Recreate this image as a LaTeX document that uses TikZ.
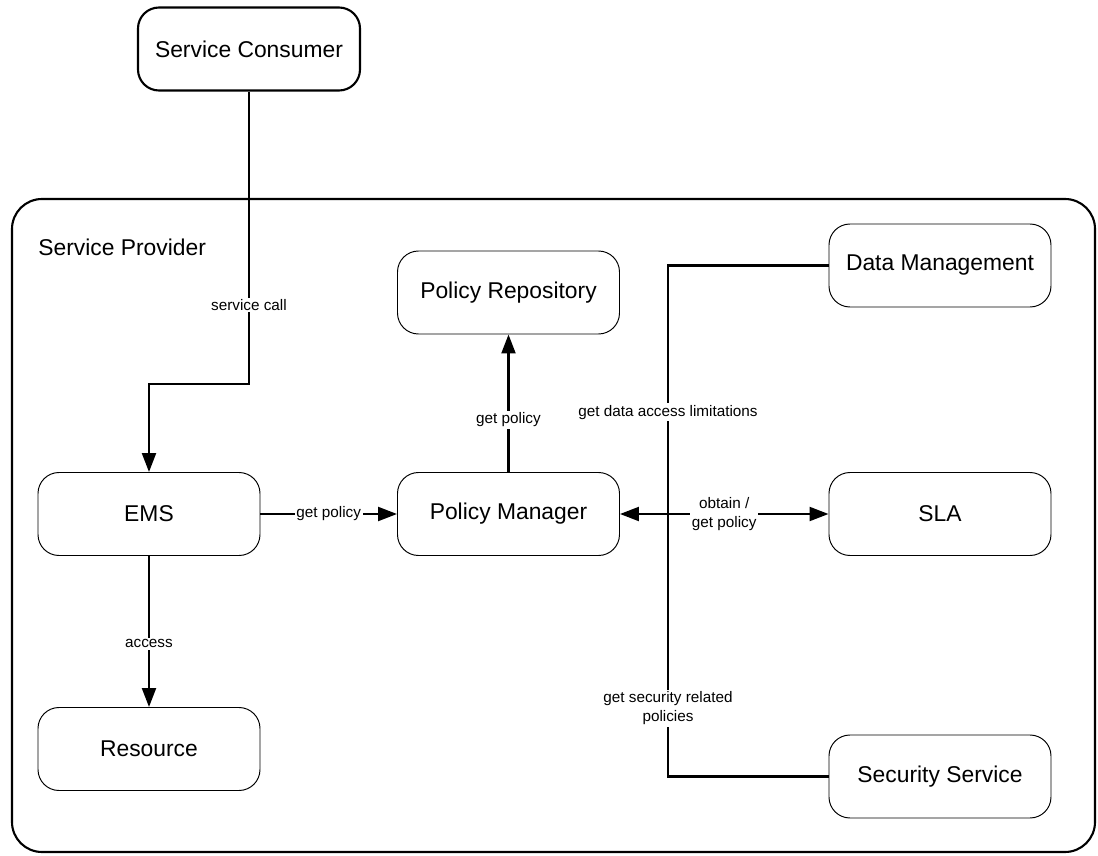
\documentclass[tikz,border=0pt]{standalone}
\usepackage{fontspec}
\setmainfont{Liberation Sans}
\usepackage{tikz}
\usetikzlibrary{arrows.meta,positioning,calc}

\begin{document}
\begin{tikzpicture}[
    comp/.style={rectangle, rounded corners=0.42cm, minimum width=4.44cm,
        minimum height=1.66cm, draw=black, line width=0.55pt, fill=white,
        font=\fontsize{13}{15}\selectfont, align=center},
    outer/.style={comp, line width=1.2pt},
    provider/.style={rounded corners=0.6cm, draw=black, line width=1.2pt},
    flow/.style={-{Triangle[length=3.8mm,width=2.8mm]}, line width=1.25pt, draw=black},
    both/.style={{Triangle[length=3.8mm,width=2.8mm]}-{Triangle[length=3.8mm,width=2.8mm]}, line width=1.25pt, draw=black},
    link/.style={line width=1.25pt, draw=black},
    lbl/.style={fill=white, inner sep=1pt, font=\fontsize{8.7}{10.8}\selectfont, align=center}
]
\useasboundingbox (0,0) rectangle (21.96,-17.12);

% provider boundary
\draw[provider] (0.24,-3.98) rectangle (21.9,-17.04);
\node[anchor=west, inner sep=0pt, font=\fontsize{13}{15}\selectfont] (provlabel) at (0.76,-4.94) {Service Provider};

\node[outer] (consumer) at (4.98,-0.98) {Service Consumer};
\node[comp] (ems) at (2.98,-10.28) {EMS};
\node[comp] (manager) at (10.17,-10.28) {Policy Manager};
\node[comp] (repo) at (10.17,-5.85) {Policy Repository};
\node[comp] (datamgmt) at (18.8,-5.31) {Data Management};
\node[comp] (sla) at (18.8,-10.28) {SLA};
\node[comp] (resource) at (2.98,-14.98) {Resource};
\node[comp] (security) at (18.8,-15.53) {Security Service};

\coordinate (callbend) at (4.98,-7.68);
\coordinate (join) at (13.36,-10.28);

\draw[flow] (consumer.south) -- node[lbl, pos=0.73] {service call} (callbend) -| (ems.north);
\draw[flow] (ems.east) -- node[lbl] {get policy} (manager.west);
\draw[flow] (ems.south) -- node[lbl, pos=0.58] {access} (resource.north);
\draw[flow] (manager.north) -- node[lbl, pos=0.38] {get policy} (repo.south);

\draw[link] (datamgmt.west) -| node[lbl, pos=0.795] {get data access limitations} (join);
\draw[link] (security.west) -| node[lbl, pos=0.63] {get security related\\policies} (join);
\draw[both] (manager.east) -- node[lbl] {obtain /\\get policy} (sla.west);

\end{tikzpicture}
\end{document}
